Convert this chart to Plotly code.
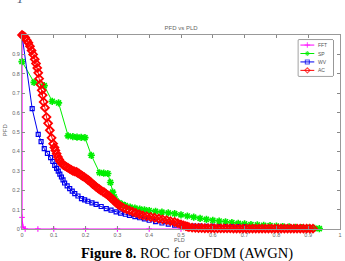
import plotly.graph_objects as go

# ---- data ----
fft_x = [0, 0, 0.003, 0.01, 0.05, 0.1, 0.2, 0.3, 0.4, 0.5, 0.6, 0.7, 0.8, 0.9]
fft_y = [1, 0.06, 0.01, 0, 0, 0, 0, 0, 0, 0, 0, 0, 0, 0]

sp_x = [0, 0.038, 0.07, 0.095, 0.115, 0.145, 0.16, 0.173, 0.186, 0.198, 0.218, 0.244, 0.257, 0.27,
        0.278, 0.285, 0.29, 0.296, 0.305, 0.315, 0.325, 0.34, 0.355, 0.37, 0.385, 0.4, 0.42, 0.44,
        0.46, 0.48, 0.5, 0.52, 0.54, 0.56, 0.58, 0.6, 0.62, 0.64, 0.66, 0.68, 0.7, 0.72, 0.74,
        0.76, 0.78, 0.8, 0.82, 0.84, 0.86, 0.88, 0.9, 0.92, 0.935]
sp_y = [0.863, 0.756, 0.739, 0.658, 0.65, 0.48, 0.476, 0.474, 0.472, 0.471, 0.38, 0.29, 0.288, 0.286,
        0.24, 0.19, 0.165, 0.145, 0.135, 0.127, 0.121, 0.113, 0.108, 0.103, 0.099, 0.095, 0.091, 0.087,
        0.083, 0.079, 0.073, 0.067, 0.061, 0.055, 0.05, 0.045, 0.041, 0.037, 0.033, 0.029, 0.026, 0.023, 0.021,
        0.019, 0.017, 0.015, 0.013, 0.011, 0.009, 0.007, 0.005, 0.003, 0.002]

wv_x = [0, 0.032, 0.051, 0.06, 0.07, 0.08, 0.09, 0.097, 0.103, 0.109, 0.114, 0.119, 0.124, 0.129,
        0.134, 0.142, 0.15, 0.158, 0.166, 0.176, 0.187, 0.197, 0.207, 0.22, 0.233, 0.249, 0.265, 0.28,
        0.296, 0.31, 0.325, 0.338, 0.355, 0.37, 0.385, 0.4, 0.42, 0.44, 0.46, 0.48, 0.5, 0.52, 0.54,
        0.56, 0.58, 0.6, 0.62, 0.64, 0.66, 0.68, 0.7]
wv_y = [1, 0.62, 0.488, 0.45, 0.414, 0.39, 0.368, 0.348, 0.328, 0.313, 0.298, 0.283, 0.268, 0.253,
        0.237, 0.222, 0.208, 0.195, 0.182, 0.17, 0.157, 0.15, 0.143, 0.135, 0.127, 0.116, 0.105, 0.097,
        0.088, 0.082, 0.076, 0.07, 0.064, 0.058, 0.052, 0.045, 0.038, 0.031, 0.025, 0.02, 0.017, 0.016, 0.015,
        0.015, 0.014, 0.014, 0.013, 0.013, 0.012, 0.012, 0.011]

ac_x = [0, 0.005, 0.01, 0.015, 0.02, 0.025, 0.03, 0.035, 0.04, 0.044, 0.048, 0.051, 0.054, 0.058,
        0.062, 0.065, 0.068, 0.072, 0.077, 0.082, 0.0875, 0.093,
        0.098, 0.102, 0.105, 0.109, 0.113, 0.117, 0.12, 0.125, 0.13, 0.135, 0.14, 0.145, 0.15, 0.155,
        0.16, 0.165, 0.171, 0.175, 0.18, 0.185, 0.19, 0.196, 0.202, 0.207, 0.212, 0.217, 0.222, 0.228,
        0.233, 0.238, 0.243, 0.248, 0.254, 0.259, 0.264, 0.27, 0.275, 0.28, 0.286, 0.291, 0.296, 0.301,
        0.306, 0.313, 0.32, 0.329, 0.338, 0.348, 0.358, 0.369, 0.38, 0.392, 0.405, 0.417, 0.43, 0.442,
        0.455, 0.467, 0.48, 0.49, 0.5, 0.508, 0.515, 0.52, 0.525,
        0.535, 0.545, 0.555, 0.565, 0.575, 0.585, 0.595, 0.605, 0.615, 0.625, 0.635, 0.645, 0.655,
        0.665, 0.675, 0.685, 0.695, 0.705, 0.715, 0.725, 0.735, 0.745, 0.755, 0.765, 0.775, 0.785,
        0.795, 0.805, 0.815, 0.825, 0.835, 0.845, 0.855, 0.865, 0.875, 0.885, 0.895, 0.905, 0.915]
ac_y = [1.0, 0.995, 0.987, 0.973, 0.96, 0.942, 0.92, 0.9, 0.875, 0.853, 0.83, 0.805, 0.775, 0.745,
        0.715, 0.69, 0.655, 0.625, 0.577, 0.545, 0.509, 0.47,
        0.44, 0.42, 0.405, 0.388, 0.371, 0.358, 0.348, 0.338, 0.33, 0.325, 0.32, 0.315, 0.31, 0.305,
        0.3, 0.297, 0.294, 0.29, 0.285, 0.279, 0.273, 0.267, 0.26, 0.254, 0.248, 0.24, 0.232, 0.225,
        0.217, 0.211, 0.205, 0.199, 0.193, 0.188, 0.182, 0.175, 0.168, 0.16, 0.152, 0.143, 0.135, 0.128,
        0.122, 0.115, 0.108, 0.102, 0.096, 0.089, 0.083, 0.076, 0.07, 0.066, 0.062, 0.058, 0.054, 0.05,
        0.046, 0.041, 0.036, 0.03, 0.024, 0.019, 0.015, 0.012, 0.01,
        0.007, 0.006, 0.005, 0.005, 0.004, 0.004, 0.004, 0.003, 0.003, 0.003, 0.003, 0.003, 0.003,
        0.002, 0.002, 0.002, 0.002, 0.002, 0.002, 0.002, 0.002, 0.002, 0.002, 0.002, 0.002, 0.002,
        0.002, 0.002, 0.002, 0.002, 0.002, 0.002, 0.002, 0.002, 0.002, 0.002, 0.002, 0.002, 0.002]

series_names = ["FFT", "SP", "WV", "AC"]
series_colors = ["#ff00ff", "#00ee00", "#0000ee", "#ff0000"]
series_symbols = ["cross-thin-open", "asterisk-open", "square-open", "diamond-open"]

x_ticks = [0, 0.1, 0.2, 0.3, 0.4, 0.5, 0.6, 0.7, 0.8, 0.9, 1]
x_tick_text = ["0", "0.1", "0.2", "0.3", "0.4", "0.5", "0.6", "0.7", "0.8", "0.9", "1"]
y_ticks = [0, 0.1, 0.2, 0.3, 0.4, 0.5, 0.6, 0.7, 0.8, 0.9]
y_tick_text = ["0", "0.1", "0.2", "0.3", "0.4", "0.5", "0.6", "0.7", "0.8", "0.9"]

fig = go.Figure()
fig.add_trace(go.Scatter(x=fft_x, y=fft_y, name="FFT", mode="lines+markers", cliponaxis=False,
                         line=dict(color=series_colors[0], width=1.2),
                         marker=dict(symbol=series_symbols[0], size=4, line=dict(color=series_colors[0], width=1))))
fig.add_trace(go.Scatter(x=sp_x, y=sp_y, name="SP", mode="lines+markers", cliponaxis=False,
                         line=dict(color=series_colors[1], width=1),
                         marker=dict(symbol=series_symbols[1], size=6, line=dict(color=series_colors[1], width=1.6))))
fig.add_trace(go.Scatter(x=wv_x, y=wv_y, name="WV", mode="lines+markers", cliponaxis=False,
                         line=dict(color=series_colors[2], width=1),
                         marker=dict(symbol=series_symbols[2], size=4, line=dict(color=series_colors[2], width=1.2))))
fig.add_trace(go.Scatter(x=ac_x, y=ac_y, name="AC", mode="lines+markers", cliponaxis=False,
                         line=dict(color=series_colors[3], width=1),
                         marker=dict(symbol=series_symbols[3], size=6, line=dict(color=series_colors[3], width=1.8))))

# compact MATLAB-style legend drawn on an overlay axis
leg_rows = [0.86, 0.625, 0.39, 0.155]
for name, col, sym, ry in zip(series_names, series_colors, series_symbols, leg_rows):
    fig.add_trace(go.Scatter(x=[0.06, 0.26, 0.46], y=[ry, ry, ry], xaxis="x2", yaxis="y2",
                             mode="lines+markers", showlegend=False, hoverinfo="skip",
                             line=dict(color=col, width=1),
                             marker=dict(symbol=sym, size=[0, 4, 0], line=dict(color=col, width=1.1))))
    fig.add_annotation(text=name, xref="x2", yref="y2", x=0.52, y=ry, showarrow=False,
                       xanchor="left", yanchor="middle",
                       font=dict(family="Liberation Sans", size=5, color="#555555"))

axis_common = dict(range=[0, 1], showgrid=False, zeroline=False, showline=True, linecolor="#999999",
                   linewidth=1, mirror="ticks", ticks="inside", ticklen=3, tickcolor="#888888",
                   tickfont=dict(family="Liberation Sans", size=5.5, color="#666666"))
fig.update_xaxes(tickvals=x_ticks, ticktext=x_tick_text, **axis_common)
fig.update_yaxes(tickvals=y_ticks, ticktext=y_tick_text, **axis_common)

fig.update_layout(
    width=345, height=261,
    margin=dict(l=22, r=3, t=35, b=32),
    paper_bgcolor="white", plot_bgcolor="white",
    showlegend=False,
    xaxis2=dict(domain=[0.869, 0.978], range=[0, 1], visible=False, anchor="y2"),
    yaxis2=dict(domain=[0.789, 0.974], range=[0, 1], visible=False, anchor="x2"),
    shapes=[dict(type="rect", xref="paper", yref="paper", x0=0.869, x1=0.978, y0=0.789, y1=0.974,
                 fillcolor="white", line=dict(color="#333333", width=1), layer="below")],
    title=dict(text="PFD vs PLD", x=0.525, xanchor="center", y=0.893, yanchor="middle",
               font=dict(family="Liberation Sans", size=6, color="#666666")),
)
fig.add_annotation(text="PLD", xref="paper", yref="paper", x=0.494, y=-0.059, showarrow=False,
                   xanchor="center", yanchor="middle", borderpad=0,
                   font=dict(family="Liberation Sans", size=5.5, color="#666666"))
fig.add_annotation(text="PFD", xref="paper", yref="paper", x=-0.053, y=0.51, showarrow=False, textangle=-90,
                   xanchor="center", yanchor="middle", font=dict(family="Liberation Sans", size=6, color="#666666"))
fig.add_annotation(text="<b>Figure 8.</b> ROC for OFDM (AWGN)", xref="paper", yref="paper", x=0.52, y=-0.127,
                   showarrow=False, xanchor="center", yanchor="middle", borderpad=0,
                   font=dict(family="Liberation Serif", size=14.5, color="black"))
fig.add_annotation(text="<i>D<sub>1</sub> = PU</i>", xref="paper", yref="paper", x=-0.07, y=1.14, showarrow=False,
                   xanchor="left", yanchor="bottom", font=dict(family="Liberation Serif", size=19, color="#4a5a7a"))

fig.write_html("out.html")
